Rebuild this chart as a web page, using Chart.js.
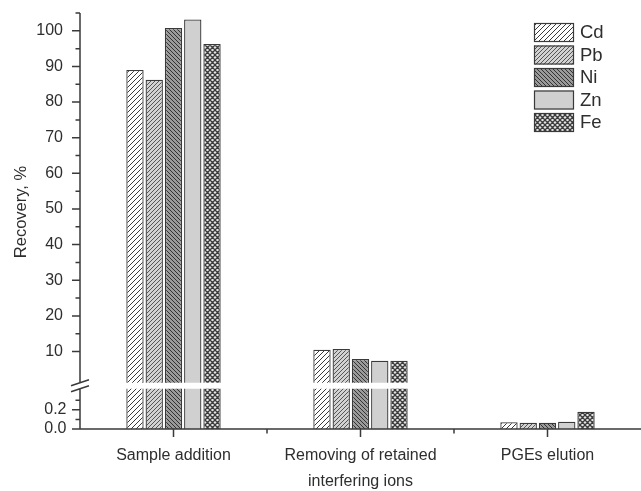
<!DOCTYPE html>
<html>
<head>
<meta charset="utf-8">
<script src="https://cdn.jsdelivr.net/npm/chart.js@4.4.0/dist/chart.umd.min.js"></script>
<style>
  html, body { margin: 0; padding: 0; background: #fff; }
  #wrap { width: 641px; height: 491px; position: relative; }
</style>
</head>
<body>
<div id="wrap"><canvas id="chart"></canvas></div>
<script>
// data
const categories = ['Sample addition', ['Removing of retained', 'interfering ions'], 'PGEs elution'];
const metals = ['Cd', 'Pb', 'Ni', 'Zn', 'Fe'];
const cd = [89.0, 10.5, 0.07];
const pb = [86.3, 10.7, 0.065];
const ni = [100.8, 7.9, 0.065];
const zn = [103.2, 7.4, 0.075];
const fe = [96.3, 7.4, 0.18];
const upperTicks = [10, 20, 30, 40, 50, 60, 70, 80, 90, 100];
const upperMinor = [15, 25, 35, 45, 55, 65, 75, 85, 95, 105];
const lowerTicks = [0, 0.2];
const lowerMinor = [0.1, 0.3];

const series = [cd, pb, ni, zn, fe];
const FONT = "'Liberation Sans', Arial, sans-serif";
const INK = '#2e2e2e';

function hatch(bg, dir, size, lw, ink) {
  const c = document.createElement('canvas');
  c.width = c.height = size;
  const g = c.getContext('2d');
  g.fillStyle = bg;
  g.fillRect(0, 0, size, size);
  g.strokeStyle = ink || '#333';
  g.lineWidth = lw;
  g.beginPath();
  if (dir === '/' || dir === 'x') {
    g.moveTo(-1, size + 1); g.lineTo(size + 1, -1);
    g.moveTo(-2, 2); g.lineTo(2, -2);
    g.moveTo(size - 2, size + 2); g.lineTo(size + 2, size - 2);
  }
  if (dir === '\\' || dir === 'x') {
    g.moveTo(-1, -1); g.lineTo(size + 1, size + 1);
    g.moveTo(-2, size - 2); g.lineTo(2, size + 2);
    g.moveTo(size - 2, -2); g.lineTo(size + 2, 2);
  }
  g.stroke();
  return g.createPattern(c, 'repeat');
}

const fills = [
  hatch('#ffffff', '/', 5, 1.0, '#3a3a3a'),
  hatch('#d2d2d2', '/', 4, 1.0, '#555'),
  hatch('#9a9a9a', '\\', 4, 1.0, '#333'),
  '#d0d0d0',
  hatch('#e4e4e4', 'x', 5, 1.3, '#3c3c3c')
];

const datasets = [];
['y', 'y2'].forEach(axis => {
  metals.forEach((m, i) => {
    datasets.push({
      label: m,
      data: series[i],
      yAxisID: axis,
      stack: m,
      backgroundColor: fills[i],
      borderColor: '#3a3a3a',
      borderWidth: 1.3,
      categoryPercentage: 0.515,
      barPercentage: 0.9
    });
  });
});

// keep each bar set inside its own part of the broken axis
const clipToAxis = {
  id: 'clipToAxis',
  beforeDatasetDraw(chart, args) {
    const ys = chart.scales[args.meta.yAxisID];
    const a = chart.chartArea;
    chart.ctx.save();
    chart.ctx.beginPath();
    chart.ctx.rect(a.left, ys.top, a.right - a.left, ys.bottom - ys.top);
    chart.ctx.clip();
  },
  afterDatasetDraw(chart) {
    chart.ctx.restore();
  }
};

const axesPlugin = {
  id: 'axesPlugin',
  afterDatasetsDraw(chart) {
    const { ctx, chartArea: a, scales: { x, y, y2 } } = chart;
    const bandTop = y.bottom - 3, bandBot = y.bottom + 3;
    ctx.save();
    ctx.fillStyle = '#fff';
    ctx.fillRect(a.left - 12, bandTop, a.right - a.left + 12, bandBot - bandTop);
    ctx.strokeStyle = '#3a3a3a';
    ctx.lineWidth = 1.5;
    ctx.beginPath();
    ctx.moveTo(a.left, a.bottom); ctx.lineTo(a.right, a.bottom);
    ctx.moveTo(a.left, a.top); ctx.lineTo(a.left, bandTop);
    ctx.moveTo(a.left, bandBot); ctx.lineTo(a.left, a.bottom);
    upperTicks.forEach(v => { const p = y.getPixelForValue(v); ctx.moveTo(a.left - 8, p); ctx.lineTo(a.left, p); });
    upperMinor.forEach(v => { const p = y.getPixelForValue(v); ctx.moveTo(a.left - 4.5, p); ctx.lineTo(a.left, p); });
    lowerTicks.forEach(v => { const p = y2.getPixelForValue(v); ctx.moveTo(a.left - 8, p); ctx.lineTo(a.left, p); });
    lowerMinor.forEach(v => { const p = y2.getPixelForValue(v); ctx.moveTo(a.left - 4.5, p); ctx.lineTo(a.left, p); });
    categories.forEach((c, i) => {
      const p = x.getPixelForValue(i);
      ctx.moveTo(p, a.bottom); ctx.lineTo(p, a.bottom + 8);
      if (i > 0) {
        const q = (p + x.getPixelForValue(i - 1)) / 2;
        ctx.moveTo(q, a.bottom); ctx.lineTo(q, a.bottom + 4.5);
      }
    });
    ctx.moveTo(a.left - 9, bandTop + 3); ctx.lineTo(a.left + 9, bandTop - 3);
    ctx.moveTo(a.left - 9, bandBot + 3); ctx.lineTo(a.left + 9, bandBot - 3);
    ctx.stroke();
    ctx.restore();
  },
  afterDraw(chart) {
    const { ctx, chartArea: a } = chart;
    ctx.save();
    // y title
    ctx.fillStyle = INK;
    ctx.font = '16.5px ' + FONT;
    ctx.textAlign = 'center';
    ctx.textBaseline = 'middle';
    ctx.translate(21, 212);
    ctx.rotate(-Math.PI / 2);
    ctx.fillText('Recovery, %', 0, 0);
    ctx.restore();
    // legend
    ctx.save();
    ctx.font = '18.5px ' + FONT;
    ctx.textAlign = 'left';
    ctx.textBaseline = 'middle';
    ctx.strokeStyle = '#3a3a3a';
    ctx.lineWidth = 1.2;
    metals.forEach((m, i) => {
      const top = a.top + 10 + i * 22.5;
      const left = a.right - 107;
      ctx.fillStyle = fills[i];
      ctx.fillRect(left, top, 40, 19);
      ctx.strokeRect(left + 0.5, top + 0.5, 39, 18);
      ctx.fillStyle = INK;
      ctx.fillText(m, left + 46, top + 10);
    });
    ctx.restore();
  }
};

function noPad(s) {
  s.paddingTop = 0; s.paddingBottom = 0; s.paddingLeft = 0; s.paddingRight = 0;
}

new Chart(document.getElementById('chart'), {
  type: 'bar',
  data: { labels: categories, datasets: datasets },
  options: {
    responsive: true,
    maintainAspectRatio: false,
    animation: false,
    events: [],
    layout: { padding: { top: 13, right: 0, bottom: 0, left: 0 } },
    plugins: { legend: { display: false }, tooltip: { enabled: false } },
    scales: {
      x: {
        type: 'category',
        offset: true,
        grid: { display: false, tickLength: 8 },
        border: { display: false },
        ticks: {
          color: INK, padding: 5, maxRotation: 0, autoSkip: false,
          font: { family: FONT, size: 16, lineHeight: 1.65 }
        },
        afterFit(s) { s.height = 62; noPad(s); }
      },
      y: {
        type: 'linear', position: 'left', stack: 'v', stackWeight: 373, weight: 2,
        min: 0.4, max: 105, stacked: false,
        grid: { display: false, tickLength: 8 },
        border: { display: false },
        afterBuildTicks(s) { s.ticks = upperTicks.map(v => ({ value: v })); },
        ticks: { color: INK, padding: 9, font: { family: FONT, size: 16 } },
        afterFit(s) { s.width = 80; noPad(s); }
      },
      y2: {
        type: 'linear', position: 'left', stack: 'v', stackWeight: 43.3, weight: 1,
        min: 0, max: 0.45, stacked: false,
        grid: { display: false, tickLength: 8 },
        border: { display: false },
        afterBuildTicks(s) { s.ticks = lowerTicks.map(v => ({ value: v })); },
        ticks: { color: INK, padding: 5.5, font: { family: FONT, size: 16 }, callback: v => Number(v).toFixed(1) },
        afterFit(s) { s.width = 80; noPad(s); }
      }
    }
  },
  plugins: [clipToAxis, axesPlugin]
});
</script>
</body>
</html>
